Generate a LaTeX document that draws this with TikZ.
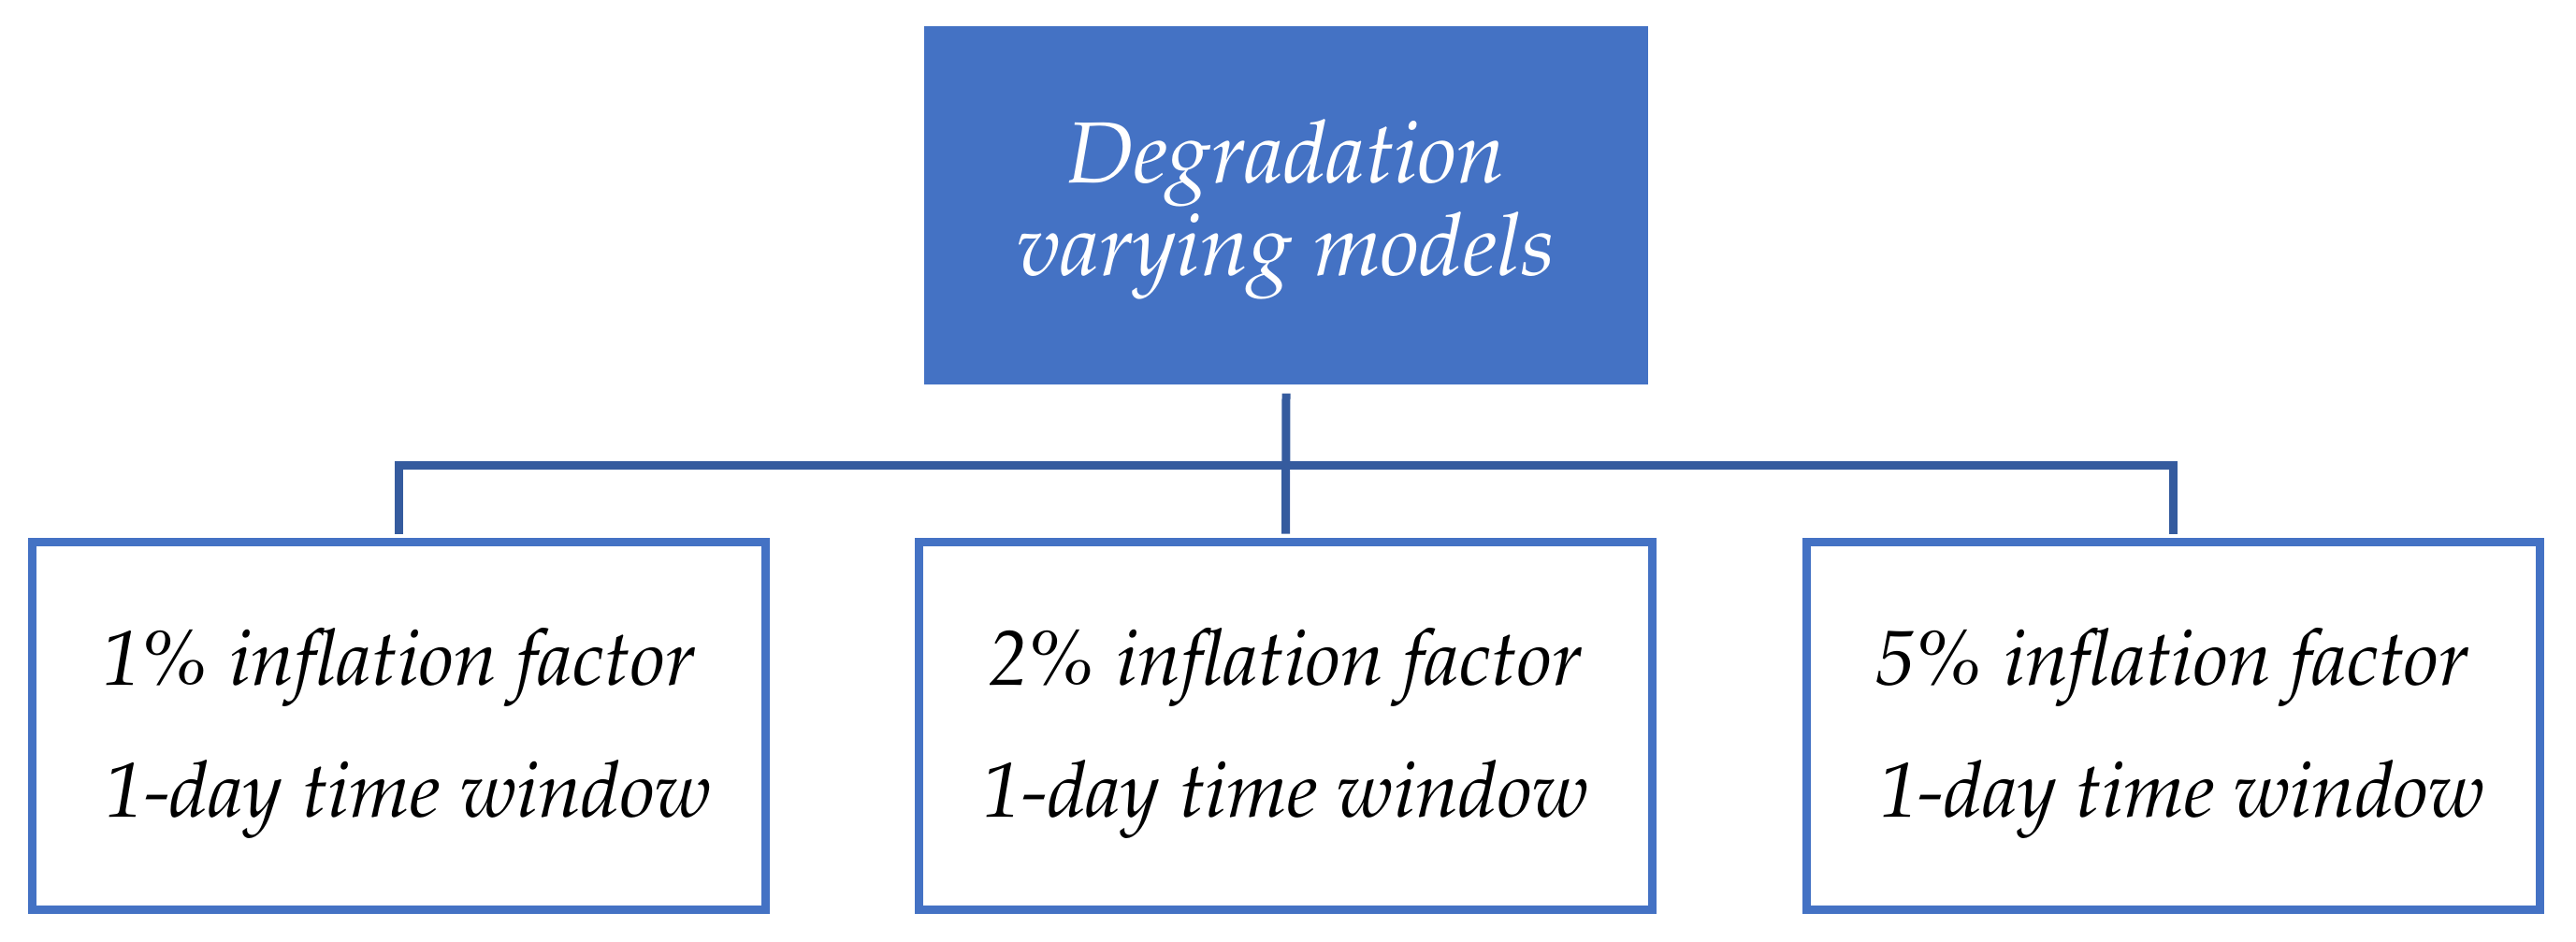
\documentclass[tikz,border=0pt]{standalone}
\usepackage[T1]{fontenc}
\renewcommand{\rmdefault}{ppl}
\usetikzlibrary{calc}
\definecolor{boxblue}{HTML}{4472C4}
\definecolor{linkblue}{HTML}{355B9E}
\tikzset{
  headbox/.style={rectangle, fill=boxblue, draw=none, inner sep=0pt,
    minimum width=7.74cm, minimum height=3.83cm, text=white, align=center,
    font=\fontsize{26.4}{28.2}\selectfont\itshape},
  leafbox/.style={rectangle, draw=boxblue, line width=0.09cm, fill=white, inner sep=0pt,
    minimum width=7.84cm, minimum height=3.93cm, text=black, align=center,
    font=\fontsize{23.7}{40.1}\selectfont\itshape},
  conn/.style={draw=linkblue, line width=0.09cm, line join=miter}
}
\newcommand{\topstrut}{\rule{0pt}{22pt}}
\newcommand{\lead}{\hspace*{0.2cm}}
\begin{document}
\begin{tikzpicture}
\useasboundingbox (0,0) rectangle (27.54,-10.06);
\node[headbox] (top) at (13.75,-2.195) {\topstrut Degradation\\varying models};
\node[leafbox] (b1) at (4.265,-7.76) {\topstrut 1\% inflation factor\\\lead 1-day time window};
\node[leafbox] (b2) at (13.745,-7.76) {\topstrut 2\% inflation factor\\1-day time window};
\node[leafbox] (b3) at (23.23,-7.76) {\topstrut 5\% inflation factor\\\lead 1-day time window};
\coordinate (bar) at (13.745,-4.975);
\draw[conn] ([yshift=0.045cm]b1.north) |- (bar) -| ([yshift=0.045cm]b3.north);
\draw[conn] ([yshift=-0.09cm]top.south) -- ([yshift=0.045cm]b2.north);
\end{tikzpicture}
\end{document}
